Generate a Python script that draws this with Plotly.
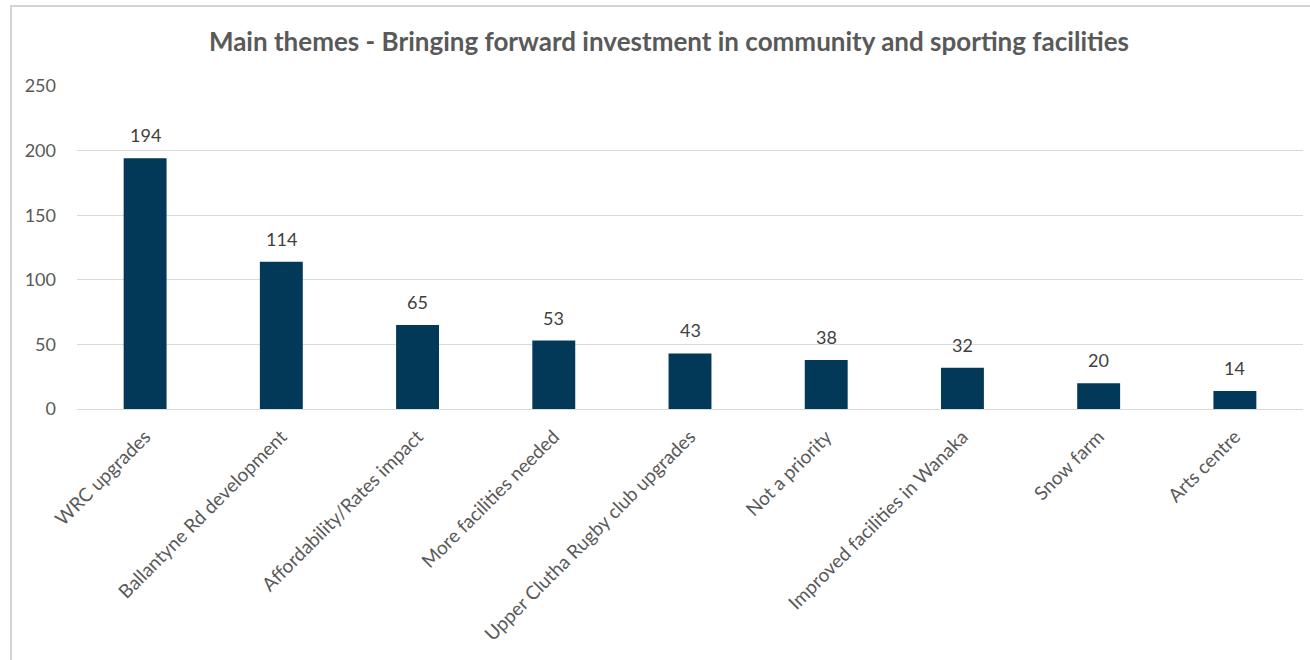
import plotly.graph_objects as go

categories = ["WRC upgrades", "Ballantyne Rd development", "Affordability/Rates impact",
              "More facilities needed", "Upper Clutha Rugby club upgrades", "Not a priority",
              "Improved facilities in Wanaka", "Snow farm", "Arts centre"]
values = [194, 114, 65, 53, 43, 38, 32, 20, 14]
y_ticks = [0, 50, 100, 150, 200, 250]

W, H = 1310, 660
L, R, T, B = 77, 7, 86, 251
pw, ph = W - L - R, H - T - B

fig = go.Figure(go.Bar(
    x=categories, y=values,
    marker=dict(color="#023858", line=dict(width=0)),
    width=0.315,
))

for c, v in zip(categories, values):
    fig.add_annotation(x=c, y=v, text=str(v), showarrow=False, yanchor="bottom", yshift=10,
                       font=dict(size=18, color="#404040", family="Lato"))

def px(x):
    return (x - L) / pw

def py(y):
    return (H - B - y) / ph

fig.update_layout(
    width=W, height=H,
    margin=dict(l=L, r=R, t=T, b=B, autoexpand=False),
    paper_bgcolor="white", plot_bgcolor="white",
    font=dict(family="Lato", color="#595959"),
    title=dict(text="<b>Main themes - Bringing forward investment in community and sporting facilities</b>",
               x=669 / W, xanchor="center", y=1 - 42 / H, yanchor="middle",
               font=dict(size=26, color="#595959", family="Lato")),
    showlegend=False,
    shapes=[dict(type="rect", xref="paper", yref="paper",
                 x0=px(11), x1=px(1330), y0=py(680), y1=py(6),
                 line=dict(color="#d4d4d4", width=2), fillcolor="rgba(0,0,0,0)", layer="below")],
)
fig.update_xaxes(tickangle=-45, tickfont=dict(size=19, color="#595959"), showline=False,
                 showgrid=False, ticks="", ticklen=0, automargin=False, ticklabelstandoff=12)
fig.update_yaxes(range=[0, 250], tickvals=y_ticks, showgrid=True, gridcolor="#d9d9d9", gridwidth=1,
                 zeroline=True, zerolinecolor="#d9d9d9", zerolinewidth=1,
                 tickfont=dict(size=18, color="#595959"), ticks="", ticklen=0, showline=False,
                 automargin=False, ticklabelstandoff=20)

fig.write_html("out.html", config={"displayModeBar": False},
               post_script="document.body.style.margin='0';document.body.style.overflow='hidden';")
